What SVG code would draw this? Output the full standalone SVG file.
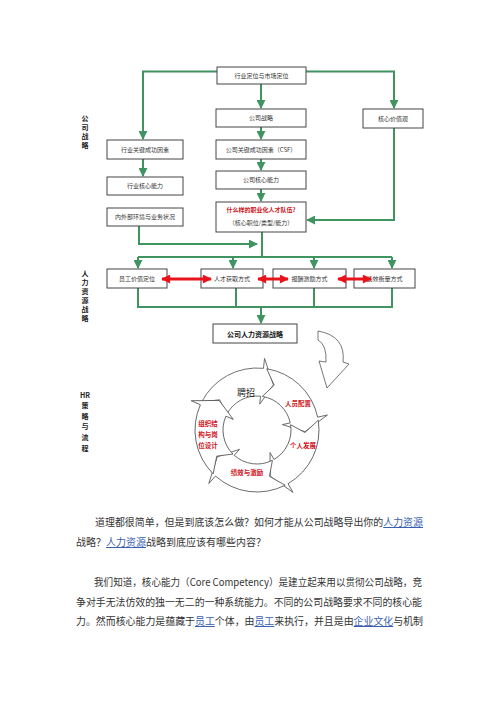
<svg xmlns="http://www.w3.org/2000/svg" xmlns:xlink="http://www.w3.org/1999/xlink" width="500" height="708" viewBox="0 0 500 708">
<style>
.bx{fill:#fff;stroke:#444;stroke-width:1}
.bt{font-family:"Noto Sans CJK SC","Noto Sans",sans-serif;font-size:6px;fill:#333;text-anchor:middle}
.g{fill:none;stroke:#3f9462;stroke-width:2}
.r{fill:none;stroke:#e8141b;stroke-width:3}
.side{font-family:"Noto Sans CJK SC","Noto Sans",sans-serif;font-size:7px;font-weight:bold;fill:#222;text-anchor:middle}
.cyc{fill:#fff;stroke:#555;stroke-width:0.8}
.cl{font-family:"Noto Sans CJK SC",sans-serif;font-size:6.5px;font-weight:bold;fill:#d0141b;text-anchor:middle}
.p{font-family:"Noto Sans CJK SC","Noto Sans",sans-serif;font-size:10px;fill:#333}
.lk{fill:#3a5fb0;text-decoration:underline}
</style>
<defs>
<marker id="ga" viewBox="0 0 10 10" refX="9" refY="5" markerWidth="9" markerHeight="9" markerUnits="userSpaceOnUse" orient="auto"><path d="M0,0 L10,5 L0,10 z" fill="#3f9462"/></marker>
<marker id="ra" viewBox="0 0 10 10" refX="9" refY="5" markerWidth="10" markerHeight="9" markerUnits="userSpaceOnUse" orient="auto-start-reverse"><path d="M0,0 L10,5 L0,10 z" fill="#e8141b"/></marker>
<path id="seg" d="M22.22,-57.88 A62 62 0 0 1 62,0 L72,0 L46.57,11.61 L26,0 L34,0 A34 34 0 0 0 12.19,-31.74 L26.14,-40.26 Z"/>
</defs>

<g id="side-labels">
<text class="side" x="85" y="121">公</text>
<text class="side" x="85" y="130">司</text>
<text class="side" x="85" y="139">战</text>
<text class="side" x="85" y="148">略</text>
<text class="side" x="85" y="276">人</text>
<text class="side" x="85" y="285">力</text>
<text class="side" x="85" y="294">资</text>
<text class="side" x="85" y="303">源</text>
<text class="side" x="85" y="312">战</text>
<text class="side" x="85" y="321">略</text>
<text class="side" x="85" y="398">HR</text>
<text class="side" x="85" y="408">策</text>
<text class="side" x="85" y="419">略</text>
<text class="side" x="85" y="429">与</text>
<text class="side" x="85" y="440">流</text>
<text class="side" x="85" y="451">程</text>
</g>

<g id="connectors">
<path class="g" d="M217,71.5 H143 V139" marker-end="url(#ga)"/>
<path class="g" d="M306,71.5 H394 V108" marker-end="url(#ga)"/>
<path class="g" d="M261,84 V108" marker-end="url(#ga)"/>
<path class="g" d="M261,127 V139" marker-end="url(#ga)"/>
<path class="g" d="M143,159 V176" marker-end="url(#ga)"/>
<path class="g" d="M261,159 V170" marker-end="url(#ga)"/>
<path class="g" d="M261,189 V201" marker-end="url(#ga)"/>
<path class="g" d="M394,128 V220 H307" marker-end="url(#ga)"/>
<path class="g" d="M139,226 V244 H257" marker-end="url(#ga)"/>
<path class="g" d="M262,232 V257"/>
<path class="g" d="M138,257 H392"/>
<path class="g" d="M138,257 V268" marker-end="url(#ga)"/>
<path class="g" d="M233,257 V268" marker-end="url(#ga)"/>
<path class="g" d="M314,257 V268" marker-end="url(#ga)"/>
<path class="g" d="M392,257 V268" marker-end="url(#ga)"/>
<path class="g" d="M138,288 V307 H392 V288 M236,288 V307 M314,288 V307"/>
<path class="g" d="M261,307 V323" marker-end="url(#ga)"/>
</g>

<g id="n-hydw"><rect class="bx" x="217" y="67" width="89" height="17"/><text class="bt" x="261.5" y="77.5">行业定位与市场定位</text></g>
<g id="n-gszl"><rect class="bx" x="216" y="109" width="90" height="18"/><text class="bt" x="261" y="120">公司战略</text></g>
<g id="n-hxjzg"><rect class="bx" x="363" y="109" width="60" height="19"/><text class="bt" x="393" y="120.5">核心价值观</text></g>
<g id="n-hygj"><rect class="bx" x="107" y="140" width="76" height="19"/><text class="bt" x="145" y="151.5">行业关键成功因素</text></g>
<g id="n-gsgj"><rect class="bx" x="216" y="140" width="90" height="19"/><text class="bt" x="261" y="151.5">公司关键成功因素（CSF）</text></g>
<g id="n-hyhx"><rect class="bx" x="107" y="177" width="76" height="18"/><text class="bt" x="145" y="188">行业核心能力</text></g>
<g id="n-gshx"><rect class="bx" x="216" y="171" width="90" height="18"/><text class="bt" x="261" y="182">公司核心能力</text></g>
<g id="n-nwb"><rect class="bx" x="107" y="208" width="76" height="18"/><text class="bt" x="145" y="219">内外部环境与业务状况</text></g>
<g id="n-smy"><rect class="bx" x="216" y="202" width="90" height="30"/><text class="bt" x="261" y="212" style="fill:#d0141b;font-weight:bold">什么样的职业化人才队伍?</text><text class="bt" x="261" y="225">（核心职位/类型/能力）</text></g>
<g id="n-ygjz"><rect class="bx" x="107" y="269" width="60" height="19"/><text class="bt" x="137" y="280.5">员工价值定位</text></g>
<g id="n-rchq"><rect class="bx" x="201" y="269" width="62" height="19"/><text class="bt" x="232" y="280.5">人才获取方式</text></g>
<g id="n-bcjl"><rect class="bx" x="273" y="269" width="73" height="19"/><text class="bt" x="309.5" y="280.5">报酬激励方式</text></g>
<g id="n-jxhl"><rect class="bx" x="354" y="269" width="61" height="19"/><text class="bt" x="384.5" y="280.5">绩效衡量方式</text></g>
<g id="n-gsrl"><rect class="bx" x="213" y="324" width="84" height="19"/><text class="bt" x="255" y="336.5" style="font-size:7px;font-weight:bold;fill:#111">公司人力资源战略</text></g>

<g id="red-arrows">
<path class="r" d="M162,279 H211" marker-start="url(#ra)" marker-end="url(#ra)"/>
<path class="r" d="M258,279 H288" marker-start="url(#ra)" marker-end="url(#ra)"/>
<path class="r" d="M338,279 H371" marker-start="url(#ra)" marker-end="url(#ra)"/>
</g>

<g id="cycle">
<path class="cyc" d="M318,331 Q346,336 343,362 L349,364 L327,388 L319,361 L326,362 Q327,345 318,340 Z"/>
<use xlink:href="#seg" class="cyc" transform="translate(257,430) rotate(-84)"/>
<use xlink:href="#seg" class="cyc" transform="translate(257,430) rotate(-12)"/>
<use xlink:href="#seg" class="cyc" transform="translate(257,430) rotate(60)"/>
<use xlink:href="#seg" class="cyc" transform="translate(257,430) rotate(132)"/>
<use xlink:href="#seg" class="cyc" transform="translate(257,430) rotate(204)"/>
<text x="246" y="396" style="font-family:'Noto Sans CJK SC',sans-serif;font-size:9px;fill:#222;text-anchor:middle">聘招</text>
<text class="cl" x="298" y="406">人员配置</text>
<text class="cl" x="303" y="448">个人发展</text>
<text class="cl" x="247" y="475">绩效与激励</text>
<text class="cl" x="208" y="426">组织结</text>
<text class="cl" x="208" y="437">构与岗</text>
<text class="cl" x="208" y="448">位设计</text>
</g>

<g id="paragraphs">
<text class="p" x="95" y="526" textLength="328" lengthAdjust="spacingAndGlyphs">道理都很简单，但是到底该怎么做？如何才能从公司战略导出你的<tspan class="lk">人力资源</tspan></text>
<text class="p" x="76" y="546">战略？<tspan class="lk">人力资源</tspan>战略到底应该有哪些内容？</text>
<text class="p" x="94" y="586" textLength="328" lengthAdjust="spacingAndGlyphs">我们知道，核心能力（Core Competency）是建立起来用以贯彻公司战略，竞</text>
<text class="p" x="76" y="606" textLength="346" lengthAdjust="spacingAndGlyphs">争对手无法仿效的独一无二的一种系统能力。不同的公司战略要求不同的核心能</text>
<text class="p" x="76" y="625" textLength="347" lengthAdjust="spacingAndGlyphs">力。然而核心能力是蕴藏于<tspan class="lk">员工</tspan>个体，由<tspan class="lk">员工</tspan>来执行，并且是由<tspan class="lk">企业文化</tspan>与机制</text>
</g>
</svg>
